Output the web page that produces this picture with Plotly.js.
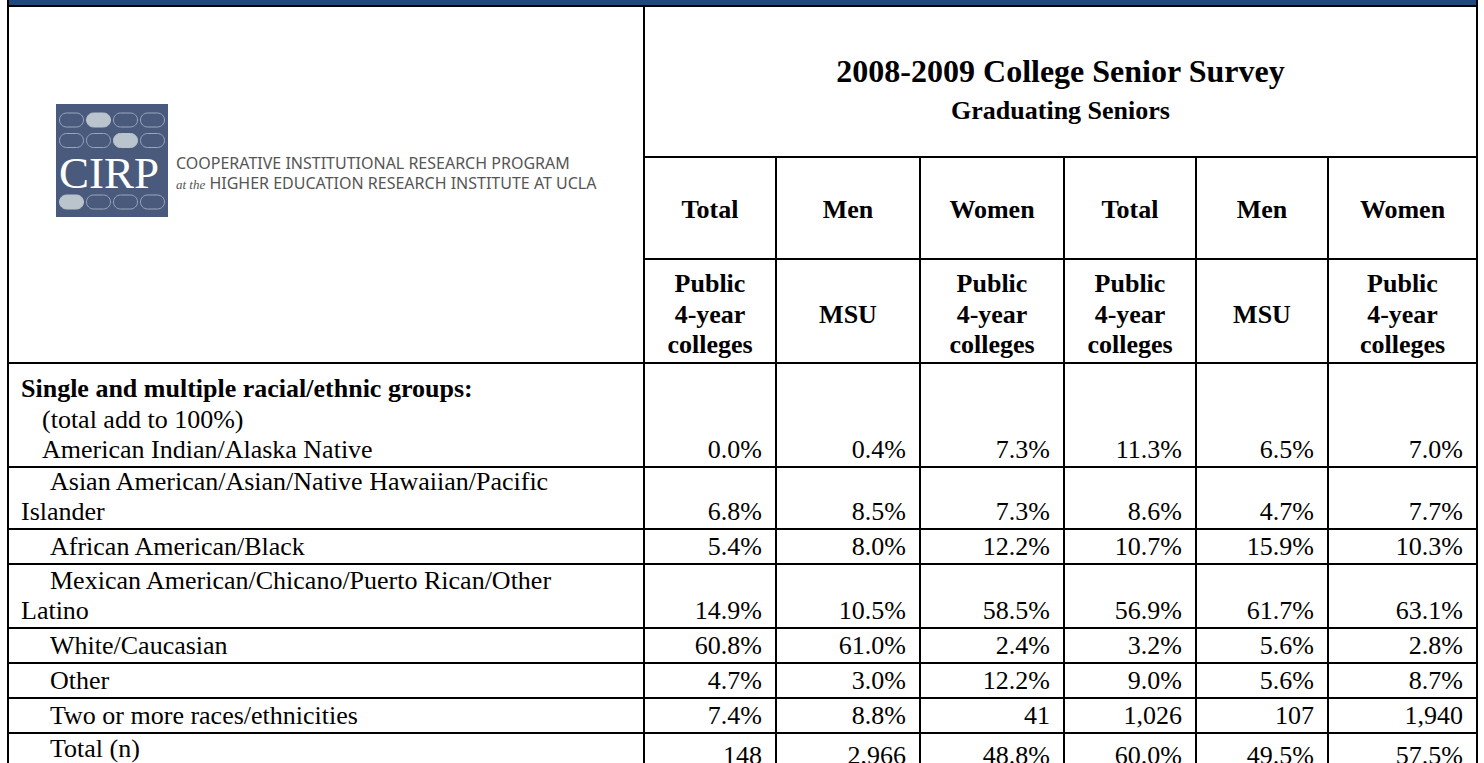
<!DOCTYPE html>
<html>
<head>
<meta charset="utf-8">
<script src="https://cdn.plot.ly/plotly-3.0.1.min.js"></script>
<style>html,body{margin:0;padding:0;background:#fff;}#chart{width:1484px;height:763px;}</style>
</head>
<body>
<div id="chart"></div>
<script>
// ---------- DATA ----------
const surveyTitle = "2008-2009 College Senior Survey";
const surveySubtitle = "Graduating Seniors";
const headerGroups = ["Total", "Men", "Women", "Total", "Men", "Women"];
const headerInstitutions = ["Public<br>4-year<br>colleges", "MSU", "Public<br>4-year<br>colleges", "Public<br>4-year<br>colleges", "MSU", "Public<br>4-year<br>colleges"];
const sectionTitle = "Single and multiple racial/ethnic groups:";
const sectionNote = "(total add to 100%)";
const categories = [
  "American Indian/Alaska Native",
  "Asian American/Asian/Native Hawaiian/Pacific<br>Islander",
  "African American/Black",
  "Mexican American/Chicano/Puerto Rican/Other<br>Latino",
  "White/Caucasian",
  "Other",
  "Two or more races/ethnicities",
  "Total (n)"
];
const col1Values = ["0.0%", "6.8%", "5.4%", "14.9%", "60.8%", "4.7%", "7.4%", "148"];
const col2Values = ["0.4%", "8.5%", "8.0%", "10.5%", "61.0%", "3.0%", "8.8%", "2,966"];
const col3Values = ["7.3%", "7.3%", "12.2%", "58.5%", "2.4%", "12.2%", "41", "48.8%"];
const col4Values = ["11.3%", "8.6%", "10.7%", "56.9%", "3.2%", "9.0%", "1,026", "60.0%"];
const col5Values = ["6.5%", "4.7%", "15.9%", "61.7%", "5.6%", "5.6%", "107", "49.5%"];
const col6Values = ["7.0%", "7.7%", "10.3%", "63.1%", "2.8%", "8.7%", "1,940", "57.5%"];
const logoWord = "CIRP";
const logoLine1 = "COOPERATIVE INSTITUTIONAL RESEARCH PROGRAM";
const logoLine2Italic = "at the";
const logoLine2 = "HIGHER EDUCATION RESEARCH INSTITUTE AT UCLA";

// ---------- LAYOUT GEOMETRY ----------
const W = 1484, H = 763;
const SERIF = "Liberation Serif, Times New Roman, serif";
const FS = 26;
const LINE = 30.5;
const colX = [644, 776, 920, 1064, 1196, 1328, 1477];
const leftX = 8;
const topY = 6;
const rowEdges = [363, 467, 529, 564, 628, 663, 698, 733, 768];
const allValues = [col1Values, col2Values, col3Values, col4Values, col5Values, col6Values];
const nRows = categories.length;

function yAt(baseline, fs) { return baseline - 0.25 * fs; }
function labelBase(r) { return r === nRows - 1 ? rowEdges[r + 1] - 11 : rowEdges[r + 1] - 9; }
function valueBase(r) { return r === nRows - 1 ? rowEdges[r + 1] - 4 : rowEdges[r + 1] - 9; }

const traces = [];
function textTrace(xs, ys, texts, pos, size, color, family) {
  traces.push({
    type: "scatter", mode: "text", x: xs, y: ys, text: texts,
    textposition: pos, hoverinfo: "skip", showlegend: false, cliponaxis: false,
    textfont: {family: family || SERIF, size: size, color: color || "#000"}
  });
}

// title block
const titleCx = (colX[0] + colX[6]) / 2;
textTrace([titleCx], [yAt(82, 32)], ["<b>" + surveyTitle + "</b>"], "middle center", 32);
textTrace([titleCx], [yAt(119, FS)], ["<b>" + surveySubtitle + "</b>"], "middle center", FS);

// header rows
const hx = [], hy = [], ht = [];
for (let i = 0; i < headerGroups.length; i++) {
  const cx = (colX[i] + colX[i + 1]) / 2;
  hx.push(cx); hy.push(yAt(218, FS)); ht.push("<b>" + headerGroups[i] + "</b>");
  const lines = headerInstitutions[i].split("<br>");
  lines.forEach((ln, j) => {
    hx.push(cx); hy.push(yAt(322.5 + (j - (lines.length - 1) / 2) * LINE, FS)); ht.push("<b>" + ln + "</b>");
  });
}
textTrace(hx, hy, ht, "middle center", FS);

// row labels
const lx = [], ly = [], lt = [];
categories.forEach((cat, r) => {
  const lastBase = labelBase(r);
  const lines = cat.split("<br>");
  if (r === 0) {
    lx.push(21); ly.push(yAt(lastBase - 2 * LINE, FS)); lt.push("<b>" + sectionTitle + "</b>");
    lx.push(42); ly.push(yAt(lastBase - LINE, FS)); lt.push(sectionNote);
    lx.push(42); ly.push(yAt(lastBase, FS)); lt.push(lines[0]);
  } else {
    lines.forEach((ln, j) => {
      lx.push(j === 0 ? 50 : 21);
      ly.push(yAt(lastBase - (lines.length - 1 - j) * LINE, FS));
      lt.push(ln);
    });
  }
});
textTrace(lx, ly, lt, "middle right", FS);

// values, one trace per column
allValues.forEach((vals, c) => {
  const xs = vals.map(() => colX[c + 1] - 14);
  const ys = vals.map((v, r) => yAt(valueBase(r), FS));
  textTrace(xs, ys, vals, "middle left", FS);
});

// logo texts
textTrace([59], [yAt(188, 45)], [logoWord], "middle right", 45, "#ffffff");
textTrace([176], [175], [logoLine1 + "<br><i><span style='font-family:Liberation Serif;font-size:13px'>" + logoLine2Italic + "</span></i> " + logoLine2],
  "middle right", 16, "#555555", "Noto Sans, sans-serif");

// ---------- SHAPES ----------
const shapes = [];
function line(x0, y0, x1, y1, w) {
  shapes.push({type: "line", layer: "below", xref: "x", yref: "y", x0: x0, y0: y0, x1: x1, y1: y1, line: {color: "#000", width: w || 2}});
}
// blue band
shapes.push({type: "rect", layer: "below", xref: "x", yref: "y", x0: leftX, y0: 0, x1: colX[6], y1: topY, fillcolor: "#1f497d", line: {width: 0}});
// outer / main lines
line(leftX, 0, leftX, H + 5);
line(colX[6], 0, colX[6], H + 5);
line(leftX, topY, colX[6], topY);
line(colX[0], topY, colX[0], H + 5);
line(colX[0], 157, colX[6], 157);
line(colX[0], 259, colX[6], 259);
for (let c = 1; c < 6; c++) line(colX[c], 157, colX[c], H + 5);
for (let r = 0; r < rowEdges.length - 1; r++) line(leftX, rowEdges[r], colX[6], rowEdges[r]);

// logo box
shapes.push({type: "rect", layer: "below", xref: "x", yref: "y", x0: 56, y0: 104, x1: 168, y1: 217, fillcolor: "#4a5a7d", line: {width: 0}});
function pill(cx, cy, w, h) {
  const r = h / 2, k = 0.5523 * r, x0 = cx - w / 2 + r, x1 = cx + w / 2 - r, y0 = cy - r, y1 = cy + r;
  return `M${x0},${y0} L${x1},${y0} C${x1 + k},${y0} ${x1 + r},${cy - k} ${x1 + r},${cy} C${x1 + r},${cy + k} ${x1 + k},${y1} ${x1},${y1} L${x0},${y1} C${x0 - k},${y1} ${x0 - r},${cy + k} ${x0 - r},${cy} C${x0 - r},${cy - k} ${x0 - k},${y0} ${x0},${y0} Z`;
}
const pillCols = [71.5, 98.5, 125.5, 152.5];
const pillRows = [120, 140.5, 202];
const filled = {"0-1": 1, "1-2": 1, "2-0": 1};
pillRows.forEach((py, ri) => {
  pillCols.forEach((px, ci) => {
    const f = filled[ri + "-" + ci];
    shapes.push({type: "path", layer: "below", xref: "x", yref: "y", path: pill(px, py, 24, 14),
      fillcolor: f ? "#b9c4cc" : "rgba(0,0,0,0)", line: {color: f ? "#b9c4cc" : "#9aa6bd", width: 1}});
  });
});

const layout = {
  width: W, height: H, margin: {l: 0, r: 0, t: 0, b: 0, pad: 0},
  paper_bgcolor: "#ffffff", plot_bgcolor: "#ffffff",
  xaxis: {range: [0, W], visible: false, fixedrange: true},
  yaxis: {range: [H, 0], visible: false, fixedrange: true},
  showlegend: false, shapes: shapes, hovermode: false
};
Plotly.newPlot("chart", traces, layout, {staticPlot: true, displayModeBar: false});
</script>
</body>
</html>
